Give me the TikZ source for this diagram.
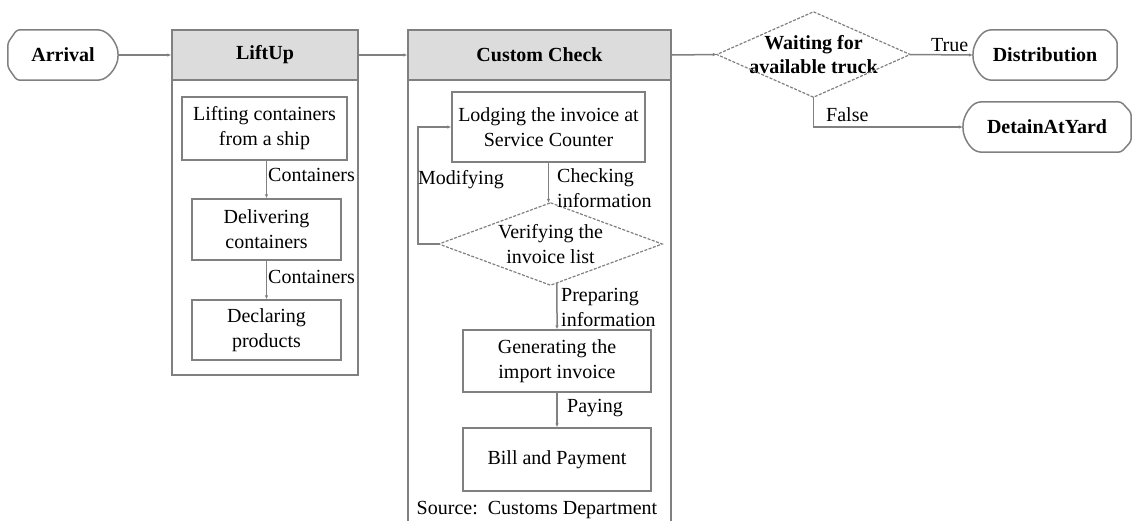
\documentclass[tikz,border=0pt]{standalone}
\usepackage{fontspec}
\setmainfont{LiberationSerif}[Extension=.ttf, UprightFont=*-Regular, BoldFont=*-Bold, ItalicFont=*-Italic, BoldItalicFont=*-BoldItalic]
\usetikzlibrary{calc,arrows.meta}
\definecolor{linegray}{HTML}{808080}
\definecolor{headgray}{HTML}{DCDCDC}
\tikzset{
  txt/.style={font=\fontsize{20}{25}\selectfont, text=black, inner sep=0pt},
  frame/.style={draw=linegray, line width=1.5pt},
  box/.style={txt, draw=linegray, line width=1.5pt, align=center},
  head/.style={box, fill=headgray, font=\fontsize{20}{25}\selectfont\bfseries},
  term/.style={txt, font=\fontsize{20}{25}\selectfont\bfseries},
  decision/.style={txt, align=center},
  dline/.style={draw=linegray, line width=1.2pt, dash pattern=on 3pt off 1.5pt},
  flow/.style={draw=linegray, line width=1.5pt},
  arr/.style={flow, -{Latex[length=4pt,width=3.5pt]}},
  lbl/.style={txt, align=left, anchor=west, inner sep=1pt}
}
% terminator outline: chamfered left side, pointed round right side
\newcommand\outR[1]{%
  \draw[flow, rounded corners=3pt]
    ([xshift=9pt]#1.north west) -- ([xshift=-18pt]#1.north east)
    .. controls ([xshift=-8pt,yshift=-4pt]#1.north east) and ([xshift=-1pt,yshift=-14pt]#1.north east) .. (#1.east)
    .. controls ([xshift=-1pt,yshift=14pt]#1.south east) and ([xshift=-8pt,yshift=4pt]#1.south east) .. ([xshift=-18pt]#1.south east)
    -- ([xshift=9pt]#1.south west) -- ([yshift=13pt]#1.south west)
    -- ([yshift=-13pt]#1.north west) -- cycle;}
% terminator outline: pointed round left side, chamfered right side
\newcommand\outL[1]{%
  \draw[flow, rounded corners=3pt]
    ([xshift=-10pt]#1.north east) -- ([xshift=16pt]#1.north west)
    .. controls ([xshift=7pt,yshift=-4pt]#1.north west) and ([xshift=1pt,yshift=-14pt]#1.north west) .. (#1.west)
    .. controls ([xshift=1pt,yshift=14pt]#1.south west) and ([xshift=7pt,yshift=4pt]#1.south west) .. ([xshift=16pt]#1.south west)
    -- ([xshift=-10pt]#1.south east) -- ([yshift=11pt]#1.south east)
    -- ([yshift=-11pt]#1.north east) -- cycle;}
% diamond outline through the four side anchors of a node
\newcommand\outD[1]{%
  \draw[dline] (#1.north) -- (#1.east) -- (#1.south) -- (#1.west) -- cycle;}
\begin{document}
\begin{tikzpicture}[x=1pt,y=-1pt]
\clip (0,0) rectangle (1132,520);

% start
\node[term, minimum width=110, minimum height=50] (arr) at (63,55) {Arrival};
\outR{arr}

% LiftUp stage
\draw[frame] (172,30) rectangle (358,375);
\node[head, minimum width=186, minimum height=50] (lift) at (265,55) {LiftUp};
\node[box, minimum width=165, minimum height=63] (lift1) at (264.5,128.5) {Lifting containers\\from a ship};
\node[box, minimum width=149, minimum height=61] (lift2) at (266.5,229.5) {Delivering\\containers};
\node[box, minimum width=149, minimum height=60] (lift3) at (266.5,330) {Declaring\\products};

% Custom Check stage
\draw[frame] (408,30) rectangle (671,545);
\node[head, minimum width=263, minimum height=50] (cc) at (539.5,55) {Custom Check};
\node[box, minimum width=193, minimum height=70] (lodge) at (548.5,127) {Lodging the invoice at\\Service Counter};
\node[decision, minimum width=223, minimum height=82] (verify) at (550.5,244) {Verifying the\\invoice list};
\outD{verify}
\node[box, minimum width=188, minimum height=62] (gen) at (557,361) {Generating the\\import invoice};
\node[box, minimum width=188, minimum height=63] (bill) at (557,459.5) {Bill and Payment};
\node[txt] (src) at (537,510) {Source:\ \ Customs Department};

% dispatch decision and outcomes
\node[decision, font=\fontsize{20}{24}\selectfont\bfseries, minimum width=193, minimum height=85] (wait) at (813.5,54.5) {Waiting for\\available truck};
\outD{wait}
\node[term, minimum width=144, minimum height=50] (dist) at (1045,55) {Distribution};
\outL{dist}
\node[term, minimum width=168, minimum height=50] (det) at (1047,127) {DetainAtYard};
\outL{det}

% main flow
\draw[arr] (arr.east) -- (lift.west);
\draw[arr] (lift.east) -- (cc.west);
\draw[arr] (cc.east) -- (wait.west);
\draw[arr] (wait.east) -- (dist.west);
\draw[arr] (wait.south) |- (det.west);
\node[lbl] (ltrue) at (930,45) {True};
\node[lbl] (lfalse) at (825,115) {False};

% LiftUp inner flow
\draw[arr] (lift2.north |- lift1.south) -- (lift2.north);
\draw[arr] (lift3.north |- lift2.south) -- (lift3.north);
\node[lbl] (c1) at (267,175) {Containers};
\node[lbl] (c2) at (267,277) {Containers};

% Custom Check inner flow
\draw[arr] (lodge.south) -- (lodge.south |- verify.north);
\draw[arr] (verify.west) -- ++(-21,0) |- (lodge.west);
\draw[arr] ($(verify.south)!0.058!(verify.east)$) -- (gen.north);
\draw[arr] (gen.south) -- (bill.north);
\node[lbl] (lcheck) at (556,188) {Checking\\information};
\node[lbl] (lmod) at (417,180) {Modifying};
\node[lbl] (lprep) at (560,307) {Preparing\\information};
\node[lbl] (lpay) at (566,408) {Paying};
\end{tikzpicture}
\end{document}
